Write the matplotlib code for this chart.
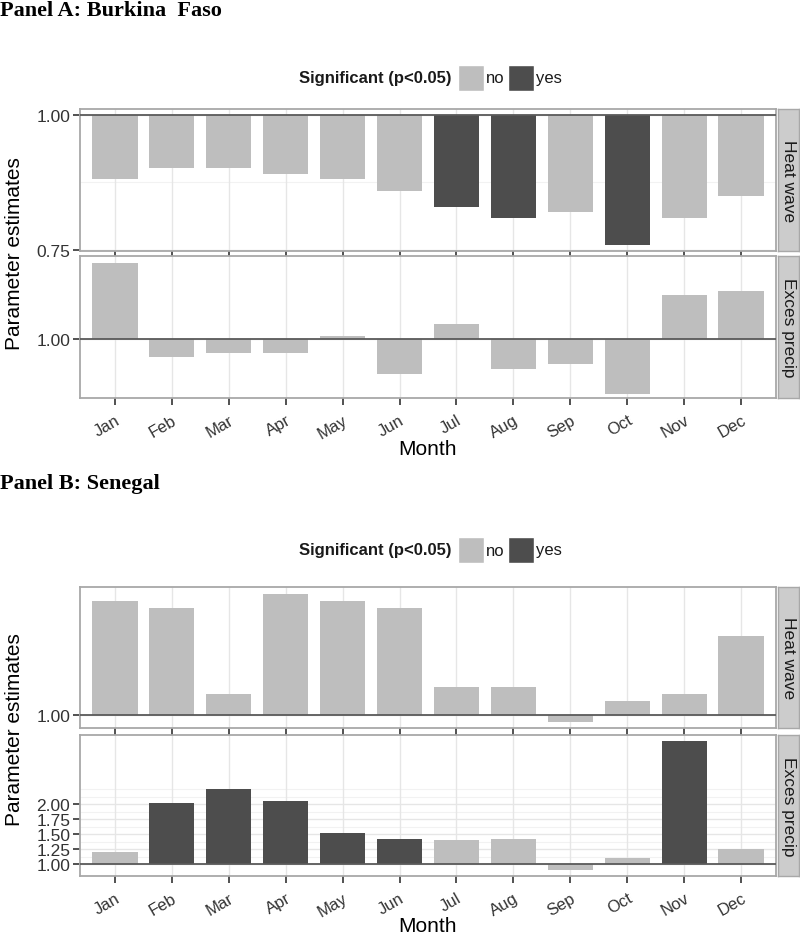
import matplotlib
matplotlib.use("Agg")
import matplotlib.pyplot as plt
from matplotlib.patches import Rectangle

# ---- data ----
months = ["Jan", "Feb", "Mar", "Apr", "May", "Jun",
          "Jul", "Aug", "Sep", "Oct", "Nov", "Dec"]

# Panel A : Burkina Faso
a_heat = [0.881, 0.901, 0.901, 0.891, 0.881, 0.86, 0.83, 0.81, 0.82, 0.76, 0.81, 0.85]
a_heat_sig = [0, 0, 0, 0, 0, 0, 1, 1, 0, 1, 0, 0]
a_precip = [1.076, 0.982, 0.986, 0.986, 1.003, 0.965, 1.015, 0.97, 0.975, 0.945, 1.044, 1.048]
a_precip_sig = [0] * 12

# Panel B : Senegal
b_heat = [1.188, 1.177, 1.035, 1.200, 1.188, 1.177, 1.046, 1.046, 0.988, 1.023, 1.035, 1.131]
b_heat_sig = [0] * 12
b_precip = [1.20, 2.02, 2.25, 2.05, 1.52, 1.42, 1.40, 1.42, 0.90, 1.10, 3.05, 1.25]
b_precip_sig = [0, 1, 1, 1, 1, 1, 0, 0, 0, 0, 1, 0]

LIGHT = "#bebebe"
DARK = "#4d4d4d"
W, H = 800, 937


def box(left, top, right, bottom):
    # pixel box -> figure fraction
    return [left / W, 1 - bottom / H, (right - left) / W, (bottom - top) / H]


def facette(fig, top, bottom, values, sig, ylim, major, minor, strip, show_x):
    ax = fig.add_axes(box(80, top, 776, bottom))
    x = list(range(len(months)))
    couleurs = [DARK if s else LIGHT for s in sig]
    ax.bar(x, [v - 1 for v in values], bottom=1, width=0.8, color=couleurs, zorder=2)
    ax.axhline(1, color="#5a5a5a", lw=1.3, zorder=3)

    ax.set_xlim(-0.61, 11.61)
    ax.set_ylim(*ylim)
    for g in minor:
        ax.axhline(g, color="#f2f2f2", lw=0.8, zorder=0)
    for g in major:
        ax.axhline(g, color="#e6e6e6", lw=1.0, zorder=0)
    for xi in x:
        ax.axvline(xi, color="#e6e6e6", lw=1.0, zorder=0)

    ax.set_yticks(major, [f"{g:.2f}" for g in major])
    ax.set_xticks(x)
    if show_x:
        ax.set_xticklabels(months, rotation=30, ha="right", va="top",
                           rotation_mode="anchor", fontsize=12, color="#333333")
    else:
        ax.set_xticklabels([])
        ax.tick_params(axis="x", length=0)
    ax.tick_params(axis="y", length=5, width=1.2, color="#333333",
                   labelsize=12.5, labelcolor="#333333", pad=2)
    ax.tick_params(axis="x", length=5, width=1.2, color="#333333", pad=5)
    for s in ax.spines.values():
        s.set_color("#a8a8a8")
        s.set_linewidth(1.3)

    # strip on the right
    sx = fig.add_axes(box(778, top, 799, bottom))
    sx.set_facecolor("#cccccc")
    sx.set_xticks([])
    sx.set_yticks([])
    for s in sx.spines.values():
        s.set_color("#a8a8a8")
        s.set_linewidth(1.0)
    sx.text(0.5, 0.5, strip, rotation=270, ha="center", va="center",
            fontsize=12.5, color="#1a1a1a", transform=sx.transAxes)
    return ax


def legende(fig, yc):
    fig.text(452 / W, 1 - yc / H, "Significant (p<0.05)", ha="right", va="center",
             fontsize=12, fontweight="bold", color="#1a1a1a")
    k = 26
    for x0, c, lab in [(458, LIGHT, "no"), (508, DARK, "yes")]:
        fig.patches.append(Rectangle((x0 / W, 1 - (yc + k / 2) / H), k / W, k / H,
                                     transform=fig.transFigure, facecolor=c,
                                     edgecolor="white", lw=1))
        fig.text((x0 + k + 2) / W, 1 - yc / H, lab, ha="left", va="center",
                 fontsize=12, color="#1a1a1a")


def main():
    plt.rcParams["font.family"] = ["Liberation Sans", "DejaVu Sans"]
    fig = plt.figure(figsize=(8, 9.37), dpi=100, facecolor="white")

    titre = dict(fontsize=16, fontweight="bold", family="Liberation Serif",
                 ha="left", va="top")

    # ---------- Panel A ----------
    fig.text(0.0, 1 - 1 / H, "Panel A: Burkina  Faso", **titre)
    legende(fig, 79)
    facette(fig, 110, 252, a_heat, a_heat_sig, (0.748, 1.011),
            [0.75, 1.00], [0.875], "Heat wave", False)
    facette(fig, 257, 399, a_precip, a_precip_sig, (0.941, 1.083),
            [1.00], [], "Exces precip", True)
    fig.text(15 / W, 1 - 254 / H, "Parameter estimates", rotation=90,
             ha="center", va="center", fontsize=15)
    fig.text(428 / W, 1 - 450 / H, "Month", ha="center", va="center", fontsize=15)

    # ---------- Panel B ----------
    fig.text(0.0, 1 - 474 / H, "Panel B: Senegal", **titre)
    legende(fig, 551)
    facette(fig, 588, 729, b_heat, b_heat_sig, (0.9785, 1.2116),
            [1.00], [], "Heat wave", False)
    facette(fig, 736, 877, b_precip, b_precip_sig, (0.80, 3.15),
            [1.00, 1.25, 1.50, 1.75, 2.00], [1.125, 1.375, 1.625, 1.875, 2.125, 2.25],
            "Exces precip", True)
    fig.text(15 / W, 1 - 730 / H, "Parameter estimates", rotation=90,
             ha="center", va="center", fontsize=15)
    fig.text(428 / W, 1 - 927 / H, "Month", ha="center", va="center", fontsize=15)

    fig.savefig("out.png", dpi=100, facecolor="white")
    plt.close(fig)


if __name__ == "__main__":
    main()
